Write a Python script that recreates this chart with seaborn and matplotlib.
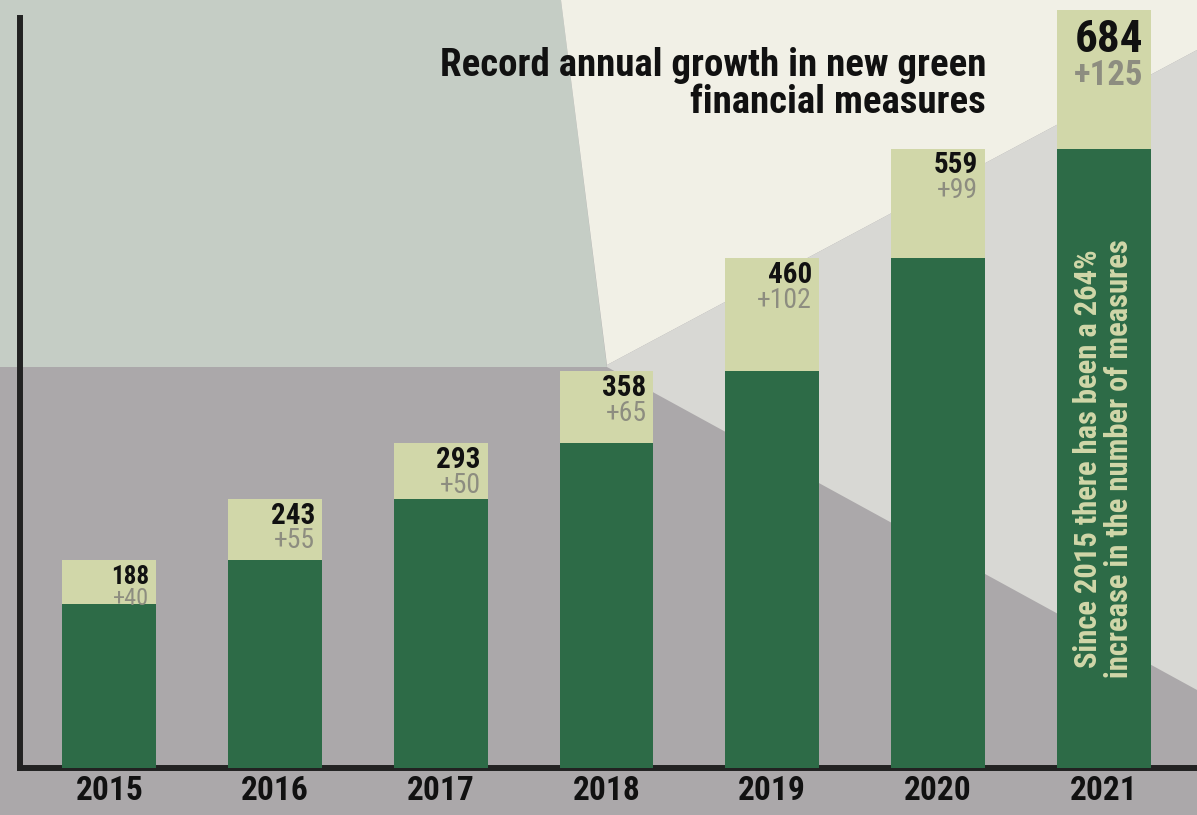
import matplotlib
matplotlib.use("Agg")
import matplotlib.pyplot as plt
from matplotlib.patches import Polygon
import seaborn as sns
import pandas as pd

# Data
years = ["2015", "2016", "2017", "2018", "2019", "2020", "2021"]
totals = [188, 243, 293, 358, 460, 559, 684]
increases = [40, 55, 50, 65, 102, 99, 125]
title = "Record annual growth in new green\nfinancial measures"
note = "Since 2015 there has been a 264%\nincrease in the number of measures"

df = pd.DataFrame({"year": years, "total": totals, "increase": increases})
df["base"] = df["total"] - df["increase"]

# Styling
DARK = "#2d6b47"
LIGHT = "#d1d7a9"
INC_GREY = "#8d8d80"
W, H = 1197, 815

sns.set_theme(style="white")
plt.rcParams["font.family"] = ["Roboto Condensed", "Liberation Sans Narrow", "Roboto", "DejaVu Sans"]

fig = plt.figure(figsize=(W / 100, H / 100), dpi=100)
fig.patch.set_facecolor("#aba8aa")


def fpt(px, py):
    return (px / W, 1 - py / H)


# Background panels
panels = [
    ("#aba8aa", [(0, 367), (607, 367), (1197, 690), (1197, 815), (0, 815)]),
    ("#c5cdc5", [(0, 0), (561, 0), (607, 367), (0, 367)]),
    ("#f1f0e6", [(561, 0), (1197, 0), (1197, 50), (607, 365)]),
    ("#d8d8d4", [(607, 365), (1197, 50), (1197, 690), (607, 367)]),
]
for color, pts in panels:
    fig.add_artist(Polygon([fpt(*p) for p in pts], closed=True, facecolor=color,
                           edgecolor="none", transform=fig.transFigure, zorder=-5))

# Plot area: left axis at x=20px, baseline at y=768px
ax = fig.add_axes([20 / W, (H - 768) / H, 1 - 20 / W, 768 / H])
ax.set_facecolor("none")

bar_w = 0.567
sns.barplot(data=df, x="year", y="total", color=LIGHT, saturation=1, width=bar_w,
            linewidth=0, ax=ax, zorder=2)
sns.barplot(data=df, x="year", y="base", color=DARK, saturation=1, width=bar_w,
            linewidth=0, ax=ax, zorder=3)

ax.set_xlim(-0.540, 6.564)
ax.set_ylim(0, 693.1)
ax.set_xlabel("")
ax.set_ylabel("")
ax.set_yticks([])

for side in ["top", "right"]:
    ax.spines[side].set_visible(False)
for side in ["left", "bottom"]:
    ax.spines[side].set_color("#222222")
    ax.spines[side].set_linewidth(4.3)
    ax.spines[side].set_capstyle("projecting")
ax.spines["left"].set_bounds(0, 677)

ax.tick_params(axis="x", length=0, pad=5)
for lab in ax.get_xticklabels():
    lab.set_fontsize(24)
    lab.set_fontweight("bold")
    lab.set_color("#111111")

# Value labels inside the top of each bar
num_sizes = [18, 21, 21, 21, 21, 21, 32.5]
inc_sizes = [17.5, 20, 20, 20, 20, 20, 25]
top_pads = [-4, -2, -2, -2, -2, -2, -6.5]
for i, row in df.iterrows():
    x_right = i + bar_w / 2
    ns = num_sizes[i]
    ax.annotate(f"{row['total']}", xy=(x_right, row["total"]), xytext=(-5, top_pads[i]),
                textcoords="offset points", ha="right", va="top",
                fontsize=ns, fontweight="bold", color="#111111", zorder=5)
    ax.annotate(f"+{row['increase']}", xy=(x_right, row["total"]),
                xytext=(-5, top_pads[i] - 0.88 * ns),
                textcoords="offset points", ha="right", va="top",
                fontsize=inc_sizes[i], fontweight="bold" if i == len(df) - 1 else "normal",
                color=INC_GREY, zorder=4)

# Rotated note in the last bar
last = len(df) - 1
ax.text(last, df["base"].iloc[last] * 0.5, note, rotation=90, ha="center", va="center",
        multialignment="center", fontsize=22, fontweight="bold", color=LIGHT,
        linespacing=1.05, zorder=5)

# Title
fig.text(*fpt(986, 47), title, ha="right", va="top", fontsize=28, fontweight="bold",
         color="#111111", linespacing=1.0, multialignment="right")

fig.savefig("out.png", dpi=100)
